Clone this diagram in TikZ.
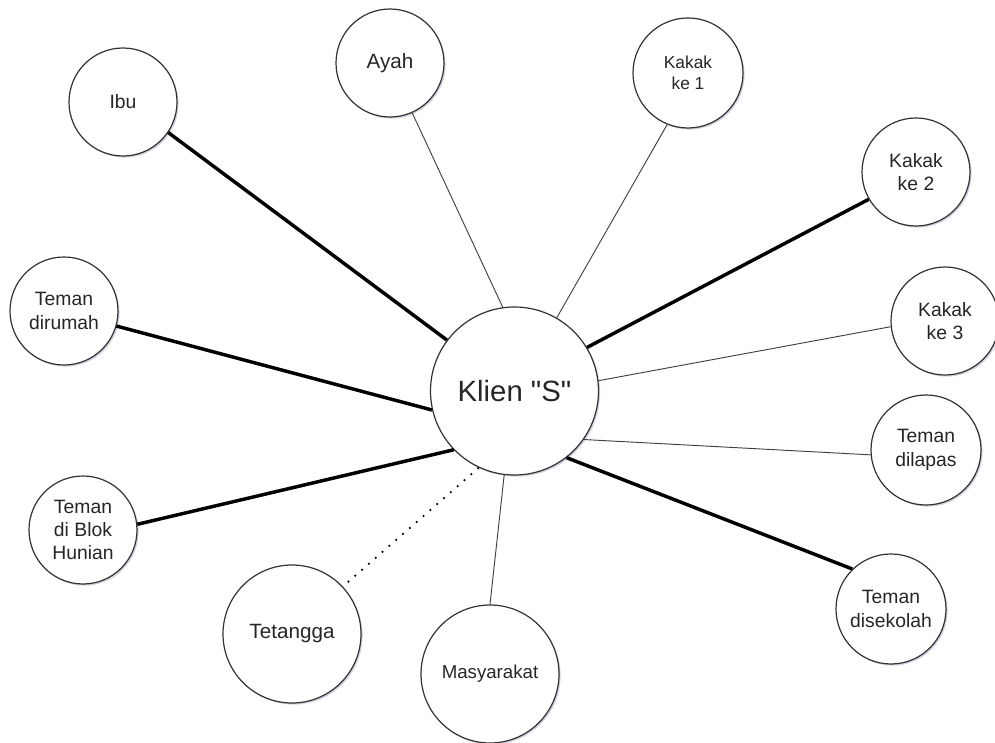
\documentclass[tikz,border=0pt]{standalone}
\usepackage{fontspec}
\setmainfont{Liberation Sans}[Ligatures=TeXOff]
\usetikzlibrary{shadows}

\begin{document}
\begin{tikzpicture}[x=0.75pt,y=-0.75pt,
    orang/.style={circle,draw=black!80,line width=0.9pt,fill=white,inner sep=0pt,
      align=center,text=black!85,font=\fontsize{14.5}{17.5}\selectfont,minimum size=81pt,
      drop shadow={shadow xshift=1.2pt,shadow yshift=-1.2pt,fill=blue!30!black,opacity=0.18}},
    kuat/.style={line width=2.6pt},
    lemah/.style={line width=0.7pt,draw=black!75},
    renggang/.style={line width=1.3pt,dash pattern=on 1.3pt off 5.5pt}]
  \useasboundingbox (0,0) rectangle (995,742);
  \node[orang,minimum size=126pt,font=\fontsize{22}{26}\selectfont] (klien) at (514.5,391) {Klien "S"};
  \node[orang] (ibu) at (123,102) {Ibu};
  \node[orang,font=\fontsize{15.5}{18.5}\selectfont] (ayah) at (390,63) {Ayah};
  \node[orang,minimum size=82.5pt,font=\fontsize{13}{16}\selectfont] (kakak1) at (688,73) {Kakak\\ke 1};
  \node[orang] (kakak2) at (916,172) {Kakak\\ke 2};
  \node[orang] (kakak3) at (945,321) {Kakak\\ke 3};
  \node[orang,minimum size=82.5pt] (lapas) at (926,450) {Teman\\dilapas};
  \node[orang,minimum size=82.5pt] (sekolah) at (891,609) {Teman\\disekolah};
  \node[orang,minimum size=103.5pt,font=\fontsize{14}{17}\selectfont] (masyarakat) at (490,674) {Masyarakat};
  \node[orang,minimum size=103.5pt,font=\fontsize{15.5}{18.5}\selectfont] (tetangga) at (292,634) {Tetangga};
  \node[orang] (blok) at (83,530) {Teman\\di Blok\\Hunian};
  \node[orang] (rumah) at (64,311) {Teman\\dirumah};
  \path (klien.143.5) edge[kuat] (ibu.-34.5)
        (klien.98) edge[lemah] (ayah.294)
        (klien.60) edge[lemah] (kakak1.248)
        (klien.31) edge[kuat] (kakak2.210)
        (klien.7.6) edge[lemah] (kakak3.186.5)
        (klien.-35.3) edge[lemah] (lapas.185)
        (klien.-52.9) edge[kuat] (sekolah.134)
        (klien.263.5) edge[lemah] (masyarakat.90)
        (klien.245.6) edge[renggang] (tetangga.43)
        (klien.224.8) edge[kuat] (blok.6)
        (klien.193.3) edge[kuat] (rumah.-16);
\end{tikzpicture}
\end{document}
